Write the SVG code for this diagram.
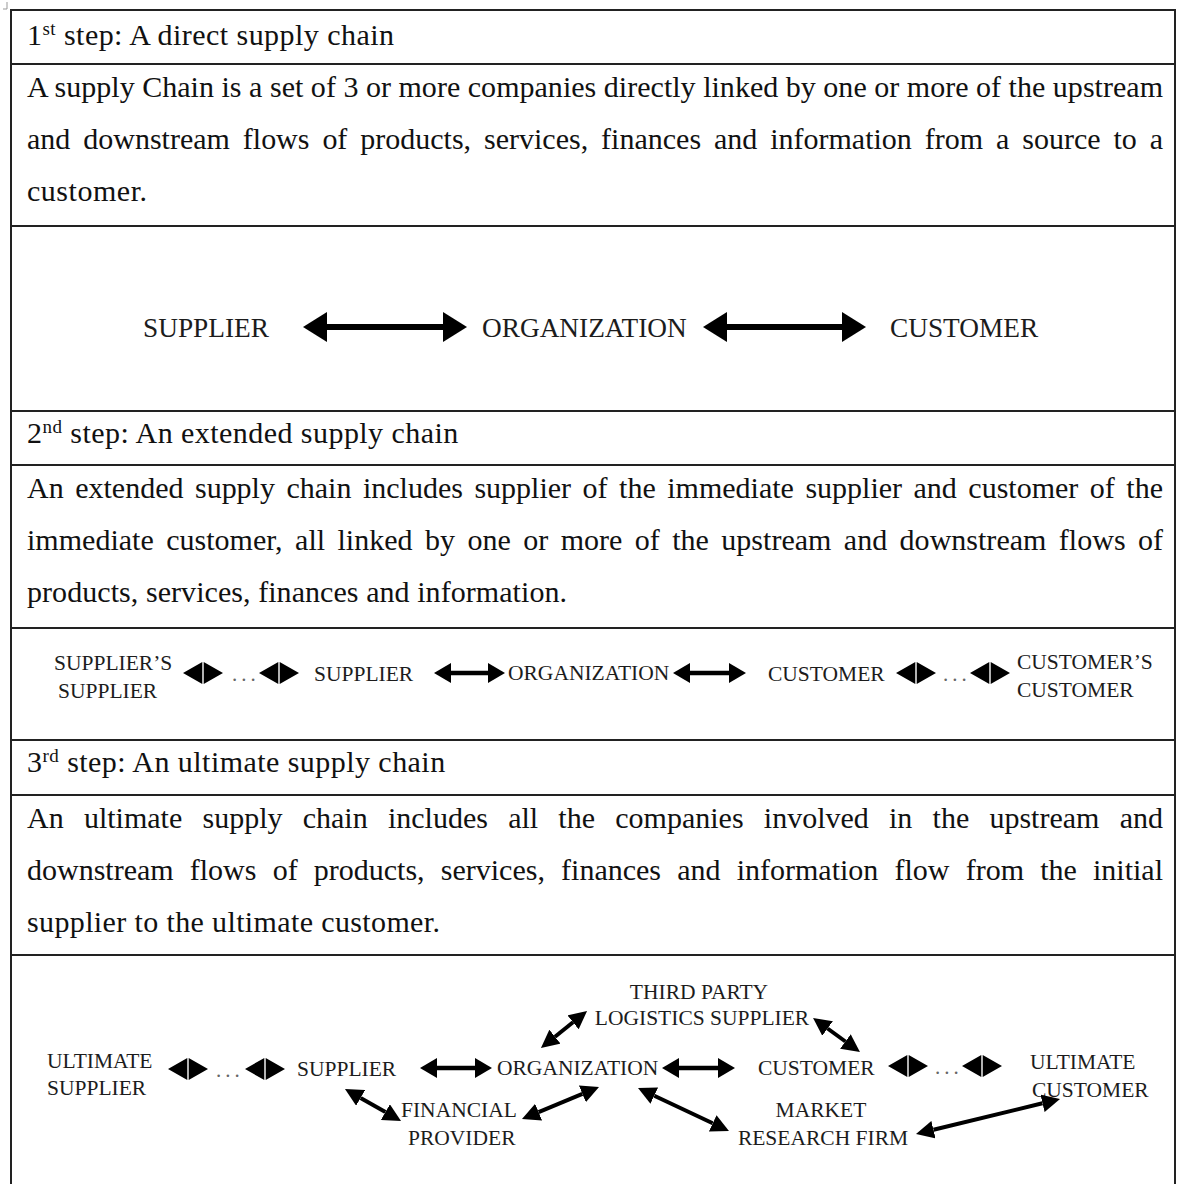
<svg xmlns="http://www.w3.org/2000/svg" width="1182" height="1184" viewBox="0 0 1182 1184">
  <defs>
    <style>
      .body{font-family:"Liberation Serif","Times New Roman",serif;font-size:30px;fill:#111}
      .title{font-family:"Liberation Serif","Times New Roman",serif;font-size:30px;fill:#111;letter-spacing:0.45px}
      .sup{font-size:19px}
      .lbl1{font-family:"Liberation Serif","Times New Roman",serif;font-size:27.3px;fill:#1c1c1c}
      .lbl{font-family:"Liberation Serif","Times New Roman",serif;font-size:21.5px;fill:#1c1c1c}
      .dots{font-family:"Liberation Serif","Times New Roman",serif;font-size:21px;fill:#666;letter-spacing:4px}
      .grid{stroke:#222;stroke-width:2;fill:none}
      .conn line{stroke:#000;fill:none}
      .wide{stroke-width:6}
      .mid{stroke-width:4.5}
      .diag{stroke-width:4}
    </style>
    <marker id="hBig" markerUnits="userSpaceOnUse" viewBox="0 0 24 30" markerWidth="24" markerHeight="30" refX="0" refY="15" orient="auto-start-reverse">
      <path d="M0,0 L24,15 L0,30 Z" fill="#000"/>
    </marker>
    <marker id="hMid" markerUnits="userSpaceOnUse" viewBox="0 0 17 20" markerWidth="17" markerHeight="20" refX="0" refY="10" orient="auto-start-reverse">
      <path d="M0,0 L17,10 L0,20 Z" fill="#000"/>
    </marker>
    <marker id="hDiag" markerUnits="userSpaceOnUse" viewBox="0 0 18 18" markerWidth="18" markerHeight="18" refX="0" refY="9" orient="auto-start-reverse">
      <path d="M0,0 L18,9 L0,18 Z" fill="#000"/>
    </marker>
    <!-- short back-to-back double head -->
    <path id="dbl" d="M0,0 L19.3,-11 L19.3,11 Z M40,0 L20.7,-11 L20.7,11 Z" fill="#000"/>
  </defs>

  <rect width="1182" height="1184" fill="#fff"/>

  <!-- table grid -->
  <g id="table">
    <path d="M7,2 V9 M3,9 H7" stroke="#999" stroke-width="1" fill="none"/>
    <path class="grid" d="M11,1190 V10 H1175 V1190"/>
    <path class="grid" d="M11,64 H1175 M11,226 H1175 M11,411 H1175 M11,465 H1175 M11,628 H1175 M11,740 H1175 M11,795 H1175 M11,955 H1175"/>
  </g>

  <!-- step 1 -->
  <g id="step1-text">
    <text class="title" x="27" y="45">1<tspan class="sup" dy="-10">st</tspan><tspan dy="10"> step: A direct supply chain</tspan></text>
    <text class="body" x="27" y="97" textLength="1136" lengthAdjust="spacing">A supply Chain is a set of 3 or more companies directly linked by one or more of the upstream</text>
    <text class="body" x="27" y="149" word-spacing="5.4" textLength="1136" lengthAdjust="spacing">and downstream flows of products, services, finances and information from a source to a</text>
    <text class="body" x="27" y="201" textLength="120" lengthAdjust="spacing">customer.</text>
  </g>

  <g id="s1-supplier"><text class="lbl1" x="143" y="337">SUPPLIER</text></g>
  <g id="s1-organization"><text class="lbl1" x="482" y="337">ORGANIZATION</text></g>
  <g id="s1-customer"><text class="lbl1" x="890" y="337">CUSTOMER</text></g>

  <!-- step 2 -->
  <g id="step2-text">
    <text class="title" x="27" y="443">2<tspan class="sup" dy="-10">nd</tspan><tspan dy="10"> step: An extended supply chain</tspan></text>
    <text class="body" x="27" y="498" word-spacing="4" textLength="1136" lengthAdjust="spacing">An extended supply chain includes supplier of the immediate supplier and customer of the</text>
    <text class="body" x="27" y="550" word-spacing="4.9" textLength="1136" lengthAdjust="spacing">immediate customer, all linked by one or more of the upstream and downstream flows of</text>
    <text class="body" x="27" y="602" textLength="540" lengthAdjust="spacing">products, services, finances and information.</text>
  </g>

  <g id="s2-suppliers-supplier">
    <text class="lbl" x="54" y="670">SUPPLIER’S</text>
    <text class="lbl" x="58" y="698">SUPPLIER</text>
  </g>
  <g id="s2-supplier"><text class="lbl" x="314" y="681">SUPPLIER</text></g>
  <g id="s2-organization"><text class="lbl" x="508" y="680">ORGANIZATION</text></g>
  <g id="s2-customer"><text class="lbl" x="768" y="681">CUSTOMER</text></g>
  <g id="s2-customers-customer">
    <text class="lbl" x="1017" y="669">CUSTOMER’S</text>
    <text class="lbl" x="1017" y="697">CUSTOMER</text>
  </g>

  <!-- step 3 -->
  <g id="step3-text">
    <text class="title" x="27" y="772">3<tspan class="sup" dy="-10">rd</tspan><tspan dy="10"> step: An ultimate supply chain</tspan></text>
    <text class="body" x="27" y="828" word-spacing="12.7" textLength="1136" lengthAdjust="spacing">An ultimate supply chain includes all the companies involved in the upstream and</text>
    <text class="body" x="27" y="880" word-spacing="8.7" textLength="1136" lengthAdjust="spacing">downstream flows of products, services, finances and information flow from the initial</text>
    <text class="body" x="27" y="932" textLength="413" lengthAdjust="spacing">supplier to the ultimate customer.</text>
  </g>

  <g id="s3-ultimate-supplier">
    <text class="lbl" x="47" y="1068">ULTIMATE</text>
    <text class="lbl" x="47" y="1095">SUPPLIER</text>
  </g>
  <g id="s3-supplier"><text class="lbl" x="297" y="1076">SUPPLIER</text></g>
  <g id="s3-organization"><text class="lbl" x="497" y="1075">ORGANIZATION</text></g>
  <g id="s3-customer"><text class="lbl" x="758" y="1075">CUSTOMER</text></g>
  <g id="s3-ultimate-customer">
    <text class="lbl" x="1030" y="1069">ULTIMATE</text>
    <text class="lbl" x="1032" y="1097">CUSTOMER</text>
  </g>
  <g id="s3-logistics">
    <text class="lbl" x="699" y="999" text-anchor="middle">THIRD PARTY</text>
    <text class="lbl" x="702" y="1025" text-anchor="middle">LOGISTICS SUPPLIER</text>
  </g>
  <g id="s3-financial">
    <text class="lbl" x="401" y="1117">FINANCIAL</text>
    <text class="lbl" x="408" y="1145">PROVIDER</text>
  </g>
  <g id="s3-market">
    <text class="lbl" x="821" y="1117" text-anchor="middle">MARKET</text>
    <text class="lbl" x="823" y="1145" text-anchor="middle">RESEARCH FIRM</text>
  </g>

  <!-- connectors -->
  <g id="connectors" class="conn">
    <!-- step 1 -->
    <line class="wide" x1="327" y1="327" x2="443" y2="327" marker-start="url(#hBig)" marker-end="url(#hBig)"/>
    <line class="wide" x1="727" y1="327" x2="842" y2="327" marker-start="url(#hBig)" marker-end="url(#hBig)"/>

    <!-- step 2 -->
    <use href="#dbl" x="183" y="673"/>
    <text class="dots" x="232" y="681">...</text>
    <use href="#dbl" x="259" y="673"/>
    <line class="mid" x1="451" y1="673" x2="488" y2="673" marker-start="url(#hMid)" marker-end="url(#hMid)"/>
    <line class="mid" x1="690" y1="673" x2="729" y2="673" marker-start="url(#hMid)" marker-end="url(#hMid)"/>
    <use href="#dbl" x="896" y="673"/>
    <text class="dots" x="943" y="681">...</text>
    <use href="#dbl" x="970" y="673"/>

    <!-- step 3 -->
    <use href="#dbl" x="168" y="1069"/>
    <text class="dots" x="216" y="1077">...</text>
    <use href="#dbl" x="245" y="1069"/>
    <line class="mid" x1="437" y1="1068" x2="475" y2="1068" marker-start="url(#hMid)" marker-end="url(#hMid)"/>
    <line class="mid" x1="679" y1="1068" x2="718" y2="1068" marker-start="url(#hMid)" marker-end="url(#hMid)"/>
    <use href="#dbl" x="888" y="1066"/>
    <text class="dots" x="935" y="1074">...</text>
    <use href="#dbl" x="962" y="1066"/>

    <line class="diag" x1="555" y1="1036.7" x2="573" y2="1022.3" marker-start="url(#hDiag)" marker-end="url(#hDiag)"/>
    <line class="diag" x1="827.6" y1="1028.5" x2="845.4" y2="1041.5" marker-start="url(#hDiag)" marker-end="url(#hDiag)"/>
    <line class="diag" x1="360.6" y1="1097.9" x2="385.4" y2="1112.1" marker-start="url(#hDiag)" marker-end="url(#hDiag)"/>
    <line class="diag" x1="538.6" y1="1112.1" x2="582.4" y2="1093.9" marker-start="url(#hDiag)" marker-end="url(#hDiag)"/>
    <line class="diag" x1="654.3" y1="1095.7" x2="712.7" y2="1123.3" marker-start="url(#hDiag)" marker-end="url(#hDiag)"/>
    <line class="diag" x1="933.5" y1="1129.7" x2="1042.5" y2="1103.3" marker-start="url(#hDiag)" marker-end="url(#hDiag)"/>
  </g>
</svg>
